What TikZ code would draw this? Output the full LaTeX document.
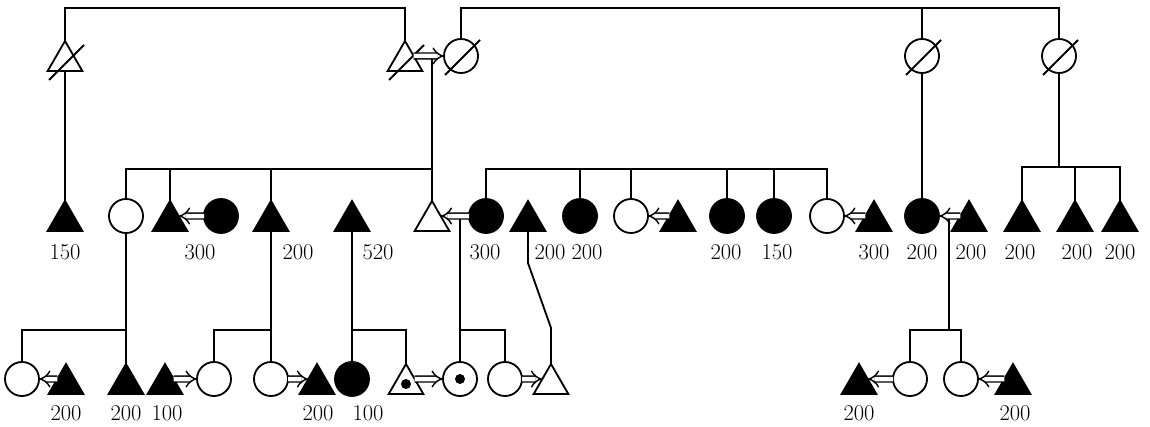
\documentclass[tikz,border=0pt]{standalone}
\usetikzlibrary{arrows.meta,calc,shapes.geometric}

\begin{document}
\begin{tikzpicture}[x=.25mm, y=-.25mm, line width=1.3pt,
  female/.style={circle, draw, minimum size=.85cm, inner sep=0pt, outer sep=0pt},
  male/.style={regular polygon, regular polygon sides=3, draw, minimum size=1cm,
    inner sep=0pt, outer sep=0pt},
  affected/.style={fill=black},
  spouse/.style={double, double distance=3.2pt, line width=1pt, -{Implies}},
  num/.style={font=\fontsize{16}{19}\selectfont, inner sep=0pt}]
  \useasboundingbox (0,0) rectangle (1150,427);

  % generation I
  \node[male] (g1) at (65,61) {};
  \node[male] (g2) at (405,61) {};
  \node[female] (g3) at (461,56) {};
  \node[female] (g4) at (922,56) {};
  \node[female] (g5) at (1059,56) {};
  \foreach \n in {g1,g2,g3,g4,g5}
    \draw ($(\n)+(-16,19)$) -- ($(\n)+(19,-16)$);

  % generation II
  \node[male, affected] (a1) at (65,221) {};
  \node[female] (a2) at (126,216) {};
  \node[male, affected] (a3) at (170,221) {};
  \node[female, affected] (a4) at (221,216) {};
  \node[male, affected] (a5) at (271,221) {};
  \node[male, affected] (a6) at (352,221) {};
  \node[male] (a7) at (432,221) {};
  \node[female, affected] (a8) at (486,216) {};
  \node[male, affected] (a9) at (528,221) {};
  \node[female, affected] (a10) at (580,216) {};
  \node[female] (a11) at (631,216) {};
  \node[male, affected] (a12) at (678,221) {};
  \node[female, affected] (a13) at (727,216) {};
  \node[female, affected] (a14) at (774,216) {};
  \node[female] (a15) at (827,216) {};
  \node[male, affected] (a16) at (874,221) {};
  \node[female, affected] (a17) at (922,216) {};
  \node[male, affected] (a18) at (969,221) {};
  \node[male, affected] (a19) at (1022,221) {};
  \node[male, affected] (a20) at (1075,221) {};
  \node[male, affected] (a21) at (1120,221) {};

  % generation III
  \node[female] (b1) at (22,379) {};
  \node[male, affected] (b2) at (66,384) {};
  \node[male, affected] (b3) at (126,384) {};
  \node[male, affected] (b4) at (165,384) {};
  \node[female] (b5) at (214,379) {};
  \node[female] (b6) at (271,379) {};
  \node[male, affected] (b7) at (317,384) {};
  \node[female, affected] (b8) at (352,379) {};
  \node[male] (b9) at (406,384) {};
  \node[female] (b10) at (460,379) {};
  \node[female] (b11) at (505,379) {};
  \node[male] (b12) at (551,384) {};
  \node[male, affected] (b13) at (859,384) {};
  \node[female] (b14) at (910,379) {};
  \node[female] (b15) at (961,379) {};
  \node[male, affected] (b16) at (1013,384) {};
  \foreach \n in {b9,b10}
    \fill (\n) circle (1.25mm);

  \coordinate (top) at (0,8);
  \coordinate (s1) at (0,169);
  \coordinate (s2) at (0,167);
  \coordinate (s3) at (0,330);
  \coordinate (m1) at (432,59);
  \coordinate (m2) at (460,219);
  \coordinate (m3) at (949,219);
  \coordinate (k1) at (528,263);
  \coordinate (k2) at (551,328);

  \draw (g1.corner 1) -- (g1 |- top) -| (g2.corner 1);
  \draw (g3.north) -- (g3 |- top) -| (g5.north);
  \draw (g4.north) -- (g4 |- top);
  \draw[spouse] (g2.side 3) -- (g3.west);
  \draw (g1.side 2) -- (a1.corner 1);
  \draw (m1) -- (a7.corner 1);
  \draw (a2.north) |- (m1 |- s1);
  \foreach \n in {a3,a5}
    \draw (\n.corner 1) -- (\n |- s1);
  \draw (a8.north) |- (a15 |- s1) -- (a15.north);
  \foreach \n in {a10,a11,a13,a14}
    \draw (\n.north) -- (\n |- s1);
  \draw (g4.south) -- (a17.north);
  \draw (g5.south) -- (g5 |- s2);
  \draw (a19.corner 1) |- (a21 |- s2) -- (a21.corner 1);
  \draw (a20.corner 1) -- (a20 |- s2);

  \draw[spouse] (a4.west) -- (a3.side 3);
  \draw[spouse] (a8.west) -- (a7.side 3);
  \draw[spouse] (a12.side 1) -- (a11.east);
  \draw[spouse] (a16.side 1) -- (a15.east);
  \draw[spouse] (a18.side 1) -- (a17.east);

  \draw (a2.south) -- (b3.corner 1);
  \draw (b1.north) |- (a2 |- s3);
  \draw (a5.side 2) -- (b6.north);
  \draw (b5.north) |- (a5 |- s3);
  \draw (a6.side 2) -- (b8.north);
  \draw (b9.corner 1) |- (b8 |- s3);
  \draw (m2) -- (b10.north);
  \draw (b11.north) |- (b10 |- s3);
  \draw (a9.side 2) -- (k1) -- (k2) -- (b12.corner 1);
  \draw (m3) -- (m3 |- s3);
  \draw (b14.north) |- (m3 |- s3) -| (b15.north);

  \draw[spouse] (b2.side 1) -- (b1.east);
  \draw[spouse] (b4.side 3) -- (b5.west);
  \draw[spouse] (b6.east) -- (b7.side 1);
  \draw[spouse] (b9.side 3) -- (b10.west);
  \draw[spouse] (b11.east) -- (b12.side 1);
  \draw[spouse] (b14.west) -- (b13.side 3);
  \draw[spouse] (b16.side 1) -- (b15.east);

  \foreach \x/\y/\w [count=\i] in {65/252/150, 200/252/300, 298/252/200,
      378/252/520, 485/252/300, 550/252/200, 587/252/200, 726/252/200,
      777/252/150, 874/252/300, 922/252/200, 971/252/200, 1020/252/200,
      1077/252/200, 1120/252/200, 66/413/200, 126/413/200, 167/413/100,
      318/413/200, 368/413/100, 859/413/200, 1015/413/200}
    \node[num] (w\i) at (\x,\y) {\w};
\end{tikzpicture}
\end{document}
